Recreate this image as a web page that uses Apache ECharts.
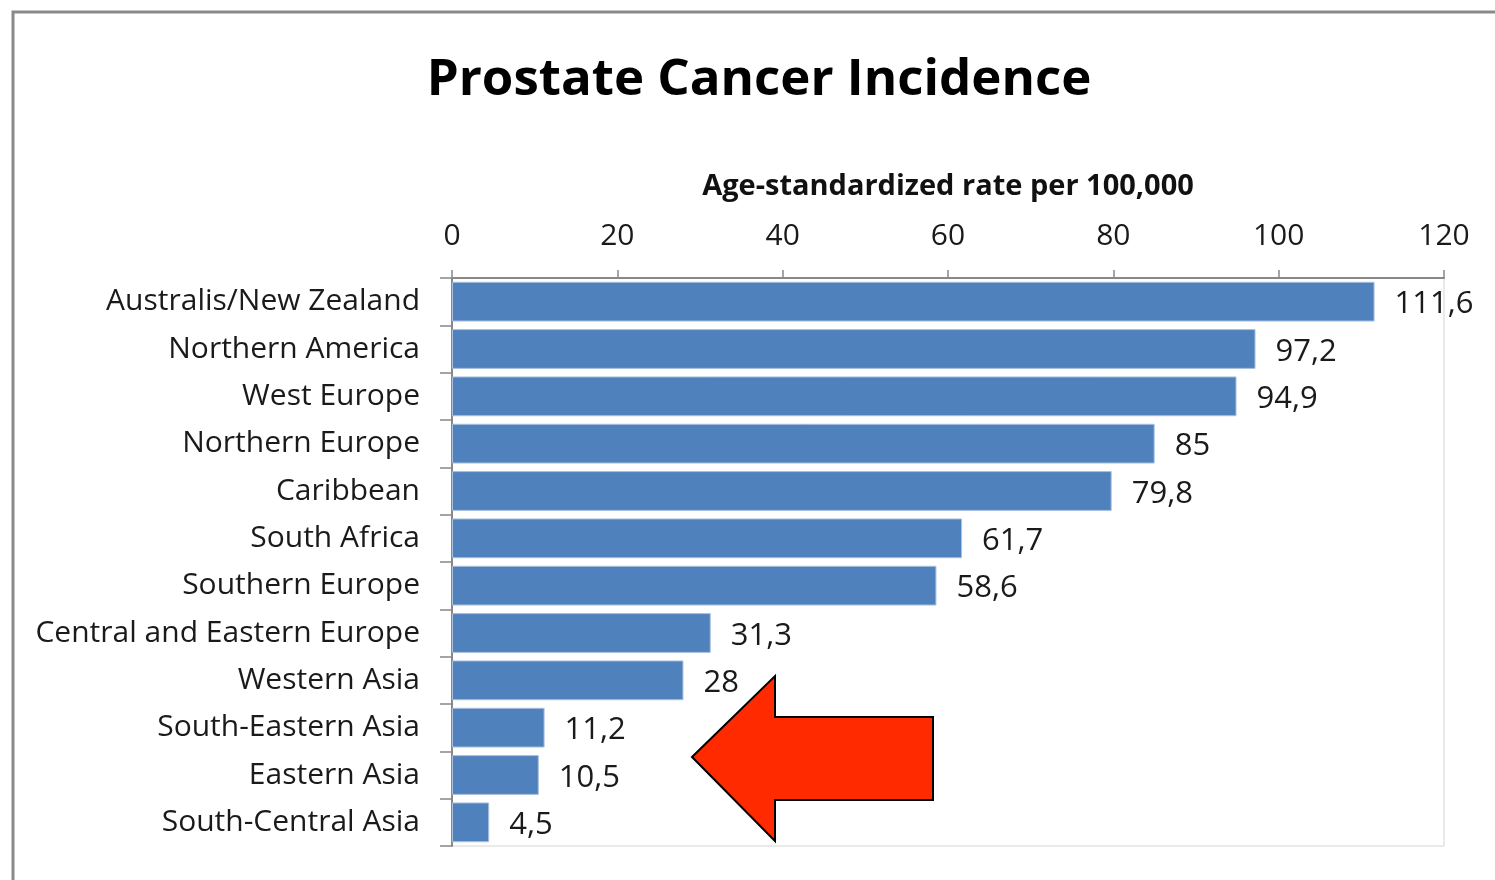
<!DOCTYPE html>
<html>
<head>
<meta charset="utf-8">
<title>Prostate Cancer Incidence</title>
<script src="https://cdn.jsdelivr.net/npm/echarts@6/dist/echarts.min.js"></script>
<style>
  html, body { margin: 0; padding: 0; background: #fff; }
  #chart { width: 1495px; height: 880px; }
</style>
</head>
<body>
<div id="chart"></div>
<script>
// Regions, top to bottom
const regions = [
  'Australis/New Zealand', 'Northern America', 'West Europe', 'Northern Europe',
  'Caribbean', 'South Africa', 'Southern Europe', 'Central and Eastern Europe',
  'Western Asia', 'South-Eastern Asia', 'Eastern Asia', 'South-Central Asia'
];
// Age-standardized incidence rate per 100,000
const rates = [111.6, 97.2, 94.9, 85, 79.8, 61.7, 58.6, 31.3, 28, 11.2, 10.5, 4.5];
const xTicks = { min: 0, max: 120, interval: 20 };

const FONT = '"Open Sans", Lato, sans-serif';
const chart = echarts.init(document.getElementById('chart'), null, { renderer: 'canvas' });

chart.setOption({
  backgroundColor: '#ffffff',
  animation: false,
  title: {
    text: 'Prostate Cancer Incidence',
    left: 754, top: 50, textAlign: 'center',
    textStyle: { fontFamily: FONT, fontSize: 51, fontWeight: 'bold', color: '#000' }
  },
  grid: { left: 452, top: 278, right: 51, bottom: 34, show: true, borderColor: '#d4d4d4', borderWidth: 1 },
  xAxis: {
    type: 'value', position: 'top',
    min: xTicks.min, max: xTicks.max, interval: xTicks.interval,
    name: 'Age-standardized rate per 100,000',
    nameLocation: 'middle', nameGap: 77,
    nameTextStyle: { fontFamily: FONT, fontSize: 29, fontWeight: 'bold', color: '#111' },
    axisLine: { show: true, lineStyle: { color: '#888', width: 2 } },
    axisTick: { show: true, length: 8, lineStyle: { color: '#888', width: 1.5 } },
    axisLabel: { fontFamily: FONT, fontSize: 30, color: '#1a1a1a', margin: 27 },
    splitLine: { show: false }
  },
  yAxis: {
    type: 'category', data: regions, inverse: true,
    axisLine: { show: true, lineStyle: { color: '#888', width: 2 } },
    axisTick: { show: true, length: 12, lineStyle: { color: '#888', width: 1.5 } },
    axisLabel: { fontFamily: FONT, fontSize: 30, color: '#1a1a1a', margin: 32, padding: [4, 0, 0, 0] }
  },
  series: [{
    type: 'bar', data: rates, barCategoryGap: '16%',
    itemStyle: { color: '#4f81bd', borderColor: '#a9c0de', borderWidth: 1 },
    label: {
      show: true, position: 'right', distance: 20, offset: [0, 3],
      fontFamily: FONT, fontSize: 31, color: '#1a1a1a',
      formatter: p => String(p.value).replace('.', ',')
    }
  }],
  graphic: [
    // outer frame
    { type: 'polyline', shape: { points: [[13, 880], [13, 12], [1495, 12]] },
      style: { stroke: '#8a8a8a', lineWidth: 3, fill: null }, silent: true },
    // red pointer arrow toward the Asian regions
    { type: 'polygon', z: 100,
      shape: { points: [[692, 757], [775, 676], [775, 717], [933, 717], [933, 800], [775, 800], [775, 841]] },
      style: { fill: '#ff2a00', stroke: '#000', lineWidth: 2 } }
  ]
});
</script>
</body>
</html>
